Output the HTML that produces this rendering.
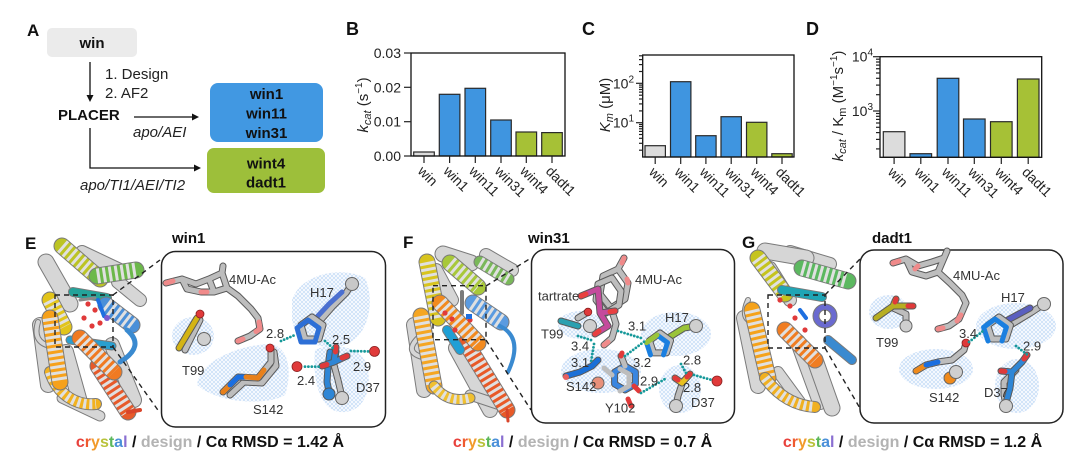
<!DOCTYPE html>
<html><head><meta charset="utf-8">
<style>
html,body{margin:0;padding:0;background:#fff;}
svg{display:block;font-family:"Liberation Sans",Arial,sans-serif;}
.ho{fill:none;stroke:#7a7a7a;stroke-linecap:round;stroke-linejoin:round}
.hc{fill:none;stroke-linecap:round;stroke-linejoin:round}
.hg{fill:none;stroke:#e0e0e0;stroke-dasharray:3 3;stroke-linejoin:round}
.gy{fill:none;stroke:#d6d6d6;stroke-linecap:round;stroke-linejoin:round}
.so{fill:none;stroke:#5a5a5a;stroke-width:7;stroke-linecap:round;stroke-linejoin:round}
.sg{fill:none;stroke:#bdbdbd;stroke-width:5;stroke-linecap:round;stroke-linejoin:round}
.sc{fill:none;stroke-width:5;stroke-linecap:round;stroke-linejoin:round}
.hb{fill:none;stroke:#17999a;stroke-width:2.8;stroke-dasharray:0 3.4;stroke-linecap:round}
.ms{fill:url(#mesh);stroke:none}
.dl{fill:none;stroke:#222;stroke-width:1.4;stroke-dasharray:5 4}
.lb{font-size:13px;fill:#333}
.bar{stroke:#2a2a2a;stroke-width:1.2}
.tk{stroke:#222;stroke-width:1.2}
.tl{font-size:14px;fill:#222}
</style></head><body>
<svg width="1080" height="465" viewBox="0 0 1080 465" xmlns="http://www.w3.org/2000/svg">
<defs>
<pattern id="mesh" width="4" height="4" patternUnits="userSpaceOnUse"><rect width="4" height="4" fill="#f4f8fe"/><path d="M0,0L4,4M4,0L0,4" stroke="#a9cbf1" stroke-width="0.45" fill="none"/></pattern>
</defs>
<rect width="1080" height="465" fill="#fff"/>

<!-- ============ Panel A ============ -->
<text x="27" y="36" font-size="17" font-weight="bold" fill="#111">A</text>
<rect x="47" y="28" width="90" height="29" rx="5" fill="#ebebeb"/>
<text x="92" y="48" font-size="15" font-weight="bold" text-anchor="middle" fill="#111">win</text>
<line x1="90" y1="62" x2="90" y2="96" stroke="#111" stroke-width="1.3"/>
<polygon points="86.5,95 93.5,95 90,102" fill="#111"/>
<text x="105" y="79" font-size="15" fill="#222">1. Design</text>
<text x="105" y="98" font-size="15" fill="#222">2. AF2</text>
<text x="58" y="120" font-size="15" font-weight="bold" fill="#111">PLACER</text>
<line x1="134" y1="117" x2="193" y2="117" stroke="#111" stroke-width="1.3"/>
<polygon points="192,113.5 192,120.5 199,117" fill="#111"/>
<text x="133" y="137" font-size="15" font-style="italic" fill="#222">apo/AEI</text>
<rect x="210" y="83" width="113" height="59" rx="8" fill="#4198e2"/>
<text x="266.5" y="99" font-size="15" font-weight="bold" text-anchor="middle" fill="#111">win1</text>
<text x="266.5" y="118.5" font-size="15" font-weight="bold" text-anchor="middle" fill="#111">win11</text>
<text x="266.5" y="138" font-size="15" font-weight="bold" text-anchor="middle" fill="#111">win31</text>
<polyline points="90,128 90,168 195,168" fill="none" stroke="#111" stroke-width="1.3"/>
<polygon points="194,164.5 194,171.5 201,168" fill="#111"/>
<rect x="207" y="148" width="118" height="45" rx="7" fill="#9dbf3a"/>
<text x="266" y="168.5" font-size="15" font-weight="bold" text-anchor="middle" fill="#111">wint4</text>
<text x="266" y="187.5" font-size="15" font-weight="bold" text-anchor="middle" fill="#111">dadt1</text>
<text x="80" y="190" font-size="15" font-style="italic" fill="#222">apo/TI1/AEI/TI2</text>

<!-- ============ Panel B ============ -->
<text x="346" y="35" font-size="18" font-weight="bold" fill="#111">B</text>
<rect class="bar" x="413.7" y="152" width="20.6" height="4" fill="#dcdcdc"/>
<rect class="bar" x="439.3" y="94.3" width="20.6" height="61.7" fill="#3f95e0"/>
<rect class="bar" x="465" y="88.3" width="20.6" height="67.7" fill="#3f95e0"/>
<rect class="bar" x="490.7" y="120" width="20.6" height="36" fill="#3f95e0"/>
<rect class="bar" x="516" y="132" width="20.6" height="24" fill="#a6c136"/>
<rect class="bar" x="541.7" y="132.6" width="20.6" height="23.4" fill="#a6c136"/>
<rect x="411" y="53" width="154" height="103" fill="none" stroke="#111" stroke-width="1.3"/>
<g class="tk">
<line x1="404" y1="53" x2="411" y2="53"/><line x1="404" y1="87.3" x2="411" y2="87.3"/>
<line x1="404" y1="121.7" x2="411" y2="121.7"/><line x1="404" y1="156" x2="411" y2="156"/>
<line x1="424" y1="156" x2="424" y2="163"/><line x1="449.6" y1="156" x2="449.6" y2="163"/>
<line x1="475.3" y1="156" x2="475.3" y2="163"/><line x1="501" y1="156" x2="501" y2="163"/>
<line x1="526.3" y1="156" x2="526.3" y2="163"/><line x1="552" y1="156" x2="552" y2="163"/>
</g>
<g class="tl" text-anchor="end">
<text x="401" y="58">0.03</text><text x="401" y="92.3">0.02</text>
<text x="401" y="126.7">0.01</text><text x="401" y="161">0.00</text>
</g>
<g class="tl">
<text transform="translate(417,172) rotate(45)">win</text>
<text transform="translate(442.6,172) rotate(45)">win1</text>
<text transform="translate(468.3,172) rotate(45)">win11</text>
<text transform="translate(494,172) rotate(45)">win31</text>
<text transform="translate(519.3,172) rotate(45)">wint4</text>
<text transform="translate(545,172) rotate(45)">dadt1</text>
</g>
<text transform="translate(368,105) rotate(-90)" text-anchor="middle" font-size="15" fill="#222"><tspan font-style="italic">k</tspan><tspan font-style="italic" font-size="11" dy="3">cat</tspan><tspan dy="-3"> (s</tspan><tspan font-size="10" dy="-6">−1</tspan><tspan dy="6">)</tspan></text>

<!-- ============ Panel C ============ -->
<text x="582" y="35" font-size="18" font-weight="bold" fill="#111">C</text>
<rect class="bar" x="645" y="145.7" width="20.4" height="11.3" fill="#dcdcdc"/>
<rect class="bar" x="670.5" y="81.7" width="20.4" height="75.3" fill="#3f95e0"/>
<rect class="bar" x="695.7" y="135.7" width="20.4" height="21.3" fill="#3f95e0"/>
<rect class="bar" x="721" y="116.7" width="20.4" height="40.3" fill="#3f95e0"/>
<rect class="bar" x="746.5" y="122.3" width="20.4" height="34.7" fill="#a6c136"/>
<rect class="bar" x="771.8" y="153.7" width="20.4" height="3.3" fill="#a6c136"/>
<rect x="642.7" y="55" width="151.3" height="102" fill="none" stroke="#111" stroke-width="1.3"/>
<g class="tk">
<line x1="636" y1="83.3" x2="642.7" y2="83.3"/><line x1="636" y1="122.7" x2="642.7" y2="122.7"/>
<line x1="639" y1="150.2" x2="642.7" y2="150.2"/><line x1="639" y1="143.3" x2="642.7" y2="143.3"/>
<line x1="639" y1="138.3" x2="642.7" y2="138.3"/><line x1="639" y1="134.5" x2="642.7" y2="134.5"/>
<line x1="639" y1="131.4" x2="642.7" y2="131.4"/><line x1="639" y1="128.8" x2="642.7" y2="128.8"/>
<line x1="639" y1="126.5" x2="642.7" y2="126.5"/><line x1="639" y1="124.5" x2="642.7" y2="124.5"/>
<line x1="639" y1="110.9" x2="642.7" y2="110.9"/><line x1="639" y1="103.9" x2="642.7" y2="103.9"/>
<line x1="639" y1="99" x2="642.7" y2="99"/><line x1="639" y1="95.2" x2="642.7" y2="95.2"/>
<line x1="639" y1="92.1" x2="642.7" y2="92.1"/><line x1="639" y1="89.5" x2="642.7" y2="89.5"/>
<line x1="639" y1="87.2" x2="642.7" y2="87.2"/><line x1="639" y1="85.1" x2="642.7" y2="85.1"/>
<line x1="639" y1="71.5" x2="642.7" y2="71.5"/><line x1="639" y1="64.6" x2="642.7" y2="64.6"/>
<line x1="639" y1="59.6" x2="642.7" y2="59.6"/><line x1="639" y1="55.8" x2="642.7" y2="55.8"/>
<line x1="655.2" y1="157" x2="655.2" y2="164"/><line x1="680.7" y1="157" x2="680.7" y2="164"/>
<line x1="705.9" y1="157" x2="705.9" y2="164"/><line x1="731.2" y1="157" x2="731.2" y2="164"/>
<line x1="756.7" y1="157" x2="756.7" y2="164"/><line x1="782" y1="157" x2="782" y2="164"/>
</g>
<g class="tl" text-anchor="end">
<text x="634" y="88.3">10<tspan font-size="10" dy="-6">2</tspan></text>
<text x="634" y="127.7">10<tspan font-size="10" dy="-6">1</tspan></text>
</g>
<g class="tl">
<text transform="translate(648.2,173) rotate(45)">win</text>
<text transform="translate(673.7,173) rotate(45)">win1</text>
<text transform="translate(698.9,173) rotate(45)">win11</text>
<text transform="translate(724.2,173) rotate(45)">win31</text>
<text transform="translate(749.7,173) rotate(45)">wint4</text>
<text transform="translate(775,173) rotate(45)">dadt1</text>
</g>
<text transform="translate(610,105) rotate(-90)" text-anchor="middle" font-size="15" fill="#222"><tspan font-style="italic">K</tspan><tspan font-style="italic" font-size="11" dy="3">m</tspan><tspan dy="-3"> (μM)</tspan></text>

<!-- ============ Panel D ============ -->
<text x="806" y="35" font-size="18" font-weight="bold" fill="#111">D</text>
<rect class="bar" x="883.3" y="131.7" width="21.6" height="25.6" fill="#dcdcdc"/>
<rect class="bar" x="910" y="153.7" width="21.6" height="3.6" fill="#3f95e0"/>
<rect class="bar" x="937.2" y="78.3" width="21.6" height="79" fill="#3f95e0"/>
<rect class="bar" x="963.5" y="119" width="21.6" height="38.3" fill="#3f95e0"/>
<rect class="bar" x="990.5" y="121.7" width="21.6" height="35.6" fill="#a6c136"/>
<rect class="bar" x="1017.4" y="79" width="21.6" height="78.3" fill="#a6c136"/>
<rect x="880" y="56.7" width="161.7" height="100.6" fill="none" stroke="#111" stroke-width="1.3"/>
<g class="tk">
<line x1="873" y1="56.7" x2="880" y2="56.7"/><line x1="873" y1="111" x2="880" y2="111"/>
<line x1="876" y1="148.9" x2="880" y2="148.9"/><line x1="876" y1="139.4" x2="880" y2="139.4"/>
<line x1="876" y1="132.6" x2="880" y2="132.6"/><line x1="876" y1="127.3" x2="880" y2="127.3"/>
<line x1="876" y1="123" x2="880" y2="123"/><line x1="876" y1="119.4" x2="880" y2="119.4"/>
<line x1="876" y1="116.3" x2="880" y2="116.3"/><line x1="876" y1="113.5" x2="880" y2="113.5"/>
<line x1="876" y1="94.7" x2="880" y2="94.7"/><line x1="876" y1="85.1" x2="880" y2="85.1"/>
<line x1="876" y1="78.3" x2="880" y2="78.3"/><line x1="876" y1="73" x2="880" y2="73"/>
<line x1="876" y1="68.7" x2="880" y2="68.7"/><line x1="876" y1="65.1" x2="880" y2="65.1"/>
<line x1="876" y1="62" x2="880" y2="62"/><line x1="876" y1="59.2" x2="880" y2="59.2"/>
<line x1="894.1" y1="157.3" x2="894.1" y2="164"/><line x1="920.8" y1="157.3" x2="920.8" y2="164"/>
<line x1="948" y1="157.3" x2="948" y2="164"/><line x1="974.3" y1="157.3" x2="974.3" y2="164"/>
<line x1="1001.3" y1="157.3" x2="1001.3" y2="164"/><line x1="1028.2" y1="157.3" x2="1028.2" y2="164"/>
</g>
<g class="tl" text-anchor="end">
<text x="873" y="61.7">10<tspan font-size="10" dy="-6">4</tspan></text>
<text x="873" y="116">10<tspan font-size="10" dy="-6">3</tspan></text>
</g>
<g class="tl">
<text transform="translate(887.1,173) rotate(45)">win</text>
<text transform="translate(913.8,173) rotate(45)">win1</text>
<text transform="translate(941,173) rotate(45)">win11</text>
<text transform="translate(967.3,173) rotate(45)">win31</text>
<text transform="translate(994.3,173) rotate(45)">wint4</text>
<text transform="translate(1021.2,173) rotate(45)">dadt1</text>
</g>
<text transform="translate(843,106) rotate(-90)" text-anchor="middle" font-size="15" fill="#222"><tspan font-style="italic">k</tspan><tspan font-style="italic" font-size="11" dy="3">cat</tspan><tspan dy="-3"> / K</tspan><tspan font-size="11" dy="3">m</tspan><tspan dy="-3"> (M</tspan><tspan font-size="10" dy="-6">−1</tspan><tspan dy="6">s</tspan><tspan font-size="10" dy="-6">−1</tspan><tspan dy="6">)</tspan></text>

<!-- ============ Panel E ============ -->
<text x="25" y="249" font-size="17" font-weight="bold" fill="#111">E</text>
<text x="172" y="243" font-size="15" font-weight="bold" fill="#111">win1</text>
<g>
<!-- background gray helices -->
<path class="ho" stroke-width="16" d="M40,325 L48,385"/><path class="gy" stroke-width="14" d="M40,325 L48,385"/>
<path class="ho" stroke-width="16" d="M66,352 L80,402"/><path class="gy" stroke-width="14" d="M66,352 L80,402"/>
<path class="ho" stroke-width="16" d="M112,345 L134,400"/><path class="gy" stroke-width="14" d="M112,345 L134,400"/>
<path class="ho" stroke-width="14" d="M118,282 L140,300"/><path class="gy" stroke-width="12" d="M118,282 L140,300"/>
<path class="ho" stroke-width="14" d="M82,252 L120,270"/><path class="gy" stroke-width="12" d="M82,252 L120,270"/>
<path class="ho" stroke-width="11" d="M62,398 L100,416"/><path class="gy" stroke-width="9" d="M62,398 L100,416"/>
<path class="ho" stroke-width="6" d="M38,322 Q32,342 50,346"/><path class="gy" stroke-width="4" d="M38,322 Q32,342 50,346"/>
<path class="ho" stroke-width="17" d="M46,262 L70,304"/><path class="gy" stroke-width="15" d="M46,262 L70,304"/>
<!-- colored -->
<path class="ho" stroke-width="17" d="M62,246 L100,279"/><path class="hc" stroke="#bcc424" stroke-width="15" d="M62,246 L100,279"/><path class="hg" stroke-width="15" d="M62,246 L100,279"/>
<path class="ho" stroke-width="17" d="M97,276 L136,270"/><path class="hc" stroke="#6cb84a" stroke-width="15" d="M97,276 L136,270"/><path class="hg" stroke-width="15" d="M97,276 L136,270"/>
<path class="ho" stroke-width="10" d="M73,292 L107,298"/><path class="hc" stroke="#23a39a" stroke-width="8" d="M73,292 L107,298"/>
<path class="ho" stroke-width="17" d="M50,300 L64,327"/><path class="hc" stroke="#e2c41a" stroke-width="15" d="M50,300 L64,327"/><path class="hg" stroke-width="15" d="M50,300 L64,327"/>
<path class="ho" stroke-width="12" d="M50,372 C58,396 78,406 96,404"/><path class="hc" stroke="#f2b21f" stroke-width="10" d="M50,372 C58,396 78,406 96,404"/><path class="hg" stroke-width="10" d="M50,372 C58,396 78,406 96,404"/>
<path class="ho" stroke-width="17" d="M50,318 L60,382"/><path class="hc" stroke="#f6a11b" stroke-width="15" d="M50,318 L60,382"/><path class="hg" stroke-width="15" d="M50,318 L60,382"/>
<path class="ho" stroke-width="17" d="M98,366 L128,412"/><path class="hc" stroke="#e75a2a" stroke-width="15" d="M98,366 L128,412"/><path class="hg" stroke-width="15" d="M98,366 L128,412"/>
<path class="hc" stroke="#d9452a" stroke-width="4" d="M128,412 L140,410"/>
<path class="ho" stroke-width="9" d="M70,340 L112,346"/><path class="hc" stroke="#2a9fd0" stroke-width="7" d="M70,340 L112,346"/>
<path class="ho" stroke-width="17" d="M80,338 L114,372"/><path class="hc" stroke="#f07a22" stroke-width="15" d="M80,338 L114,372"/><path class="hg" stroke-width="15" d="M80,338 L114,372"/>
<path class="ho" stroke-width="17" d="M106,305 L132,325"/><path class="hc" stroke="#4a8fd8" stroke-width="15" d="M106,305 L132,325"/><path class="hg" stroke-width="15" d="M106,305 L132,325"/>
<path class="hc" stroke="#3a8ad0" stroke-width="5" d="M127,330 Q146,346 120,362"/>
<path class="hc" stroke="#8a8a8a" stroke-width="3" d="M80,300 L95,298"/>
<path class="hc" stroke="#1e6fe0" stroke-width="4" d="M98,300 L104,316"/>
<circle cx="88" cy="304" r="2.6" fill="#e03a3a"/><circle cx="95" cy="310" r="2.6" fill="#e03a3a"/>
<circle cx="84" cy="318" r="2.6" fill="#e03a3a"/><circle cx="100" cy="323" r="2.6" fill="#e03a3a"/>
<circle cx="92" cy="326" r="2.6" fill="#e03a3a"/><circle cx="107" cy="318" r="3" fill="#7a5ad0"/>
</g>
<rect class="dl" x="55" y="295" width="58" height="52"/>
<path class="dl" d="M113,295 L160,260 M113,347 L160,413"/>
<rect x="161.5" y="251.5" width="224" height="175.5" rx="14" fill="#fff" stroke="#222" stroke-width="1.5"/>
<!-- inset E -->
<ellipse class="ms" cx="193" cy="336" rx="21" ry="19"/>
<path class="ms" d="M292,300 C300,275 340,265 365,278 C375,300 370,335 345,345 C320,352 295,340 292,320 Z"/>
<path class="ms" d="M197,385 C200,360 240,345 270,344 C290,346 292,375 285,395 C270,405 220,405 197,385 Z"/>
<path class="ms" d="M315,350 C330,342 365,345 368,370 C372,395 360,414 340,412 C320,410 312,380 315,350 Z"/>
<path class="so" d="M166,283 L182,279 L196,284 L209,279 L222,273 L223,266 M182,279 L187,289 L201,292 L214,292 L227,288 L222,273 M214,292 L209,279 M227,288 L238,296 L251,309 L258,318 L260,329 L250,336 L238,341"/>
<path class="sg" d="M166,283 L182,279 L196,284 L209,279 L222,273 L223,266 M182,279 L187,289 L201,292 L214,292 L227,288 L222,273 M214,292 L209,279 M227,288 L238,296 L251,309 L258,318 L260,329 L250,336 L238,341"/>
<path class="sc" stroke="#f08a8a" d="M166,283 L173,281 M201,292 L207,292 M259,322 L260,329 L256,331.5 M238,341 L243,339"/>
<path class="so" d="M319,322 L333,306 L346,293 L352,284"/><path class="sc" stroke="#bdbdbd" d="M319,322 L333,306 L346,293 L352,284"/>
<path class="sc" stroke="#4a6fd0" d="M315,319 L329,304 L342,292"/>
<path class="so" d="M312,317 L323,325 L319,339 L305,339 L301,325 Z"/><path class="sc" stroke="#bdbdbd" d="M312,317 L323,325 L319,339 L305,339 L301,325 Z"/>
<path class="sc" stroke="#2d6fd6" d="M308,320 L319,328 L315,342 L301,342 L297,328 Z"/>
<circle cx="352" cy="284" r="6.5" fill="#c8c8c8" stroke="#666" stroke-width="1"/>
<path class="so" d="M185,350 L200,320"/><path class="sc" stroke="#bdbdbd" d="M185,350 L200,320"/>
<path class="so" d="M179,348 L197,318"/><path class="sc" stroke="#d4b414" d="M179,348 L197,318"/>
<circle cx="200" cy="314" r="4" fill="#e03a3a" stroke="#8a2020" stroke-width="0.8"/>
<circle cx="204" cy="339" r="6.5" fill="#cfcfcf" stroke="#666" stroke-width="1"/>
<path class="so" d="M230,395 L244,382 L262,383 L276,366 L274,352"/><path class="sc" stroke="#bdbdbd" d="M230,395 L244,382 L262,383 L276,366 L274,352"/>
<path class="so" d="M223,392 L238,377 L258,378 L271,362 L271,349"/><path class="sc" stroke="#bdbdbd" d="M223,392 L238,377 L258,378 L271,362 L271,349"/>
<path class="sc" stroke="#e8801a" d="M223,392 L230,385"/><path class="sc" stroke="#1a6ee0" d="M230,385 L238,377 L246,377"/><path class="sc" stroke="#e8801a" d="M246,377 L258,378 L264,370"/>
<circle cx="270" cy="348" r="4" fill="#e03a3a" stroke="#8a2020" stroke-width="0.8"/>
<path class="so" d="M336,351 L334,365 L338,380 L342,397"/><path class="sc" stroke="#bdbdbd" d="M336,351 L334,365 L338,380 L342,397"/>
<path class="so" d="M330,352 L328,367 L327,382 L330,396"/><path class="sc" stroke="#2e86d6" d="M330,352 L328,367 L327,382 L330,396"/>
<path class="so" d="M322,366 L334,362 L336,347 M334,362 L347,356"/><path class="sc" stroke="#2e86d6" d="M322,366 L334,362 L336,347 M334,362 L347,356"/>
<path class="sc" stroke="#e03a3a" d="M322,366 L327,364.5 M336,347 L335.5,352 M347,356 L342,358"/>
<circle cx="342" cy="398" r="6.5" fill="#cfcfcf" stroke="#666" stroke-width="1"/>
<circle cx="329" cy="394" r="6" fill="#2e86d6" stroke="#555" stroke-width="1"/>
<circle cx="297" cy="366.6" r="5" fill="#e03a3a" stroke="#8a2020" stroke-width="0.8"/>
<circle cx="374.5" cy="351.4" r="5" fill="#e03a3a" stroke="#8a2020" stroke-width="0.8"/>
<path class="hb" d="M281,341 L295,335 M305,366.6 L320,366.6 M325,341 L335,350 M351,351 L368,351.4"/>
<text class="lb" x="229" y="284">4MU-Ac</text><text class="lb" x="310" y="297">H17</text>
<text class="lb" x="182" y="375">T99</text><text class="lb" x="266" y="338">2.8</text>
<text class="lb" x="332" y="344">2.5</text><text class="lb" x="297" y="385">2.4</text>
<text class="lb" x="353" y="371">2.9</text><text class="lb" x="356" y="392">D37</text>
<text class="lb" x="253" y="414">S142</text>
<text x="210" y="447" text-anchor="middle" font-size="16" font-weight="bold" fill="#111"><tspan fill="#e8413c">c</tspan><tspan fill="#ef5a2e">r</tspan><tspan fill="#f29a2a">y</tspan><tspan fill="#b9c23a">s</tspan><tspan fill="#5cb85c">t</tspan><tspan fill="#4a90d9">a</tspan><tspan fill="#8a6fd1">l</tspan> / <tspan fill="#b3b3b3">design</tspan> / Cα RMSD = 1.42 Å</text>

<!-- ============ Panel F ============ -->
<text x="403" y="248" font-size="17" font-weight="bold" fill="#111">F</text>
<text x="528" y="243" font-size="15" font-weight="bold" fill="#111">win31</text>
<g>
<path class="ho" stroke-width="16" d="M414,325 L424,390"/><path class="gy" stroke-width="14" d="M414,325 L424,390"/>
<path class="ho" stroke-width="16" d="M456,348 L490,410"/><path class="gy" stroke-width="14" d="M456,348 L490,410"/>
<path class="ho" stroke-width="14" d="M486,255 L512,270"/><path class="gy" stroke-width="12" d="M486,255 L512,270"/>
<path class="ho" stroke-width="11" d="M470,395 L500,405"/><path class="gy" stroke-width="9" d="M470,395 L500,405"/>
<path class="ho" stroke-width="14" d="M436,270 L452,300"/><path class="gy" stroke-width="12" d="M436,270 L452,300"/>
<path class="ho" stroke-width="6" d="M418,338 Q404,352 422,357"/><path class="gy" stroke-width="4" d="M418,338 Q404,352 422,357"/>
<path class="ho" stroke-width="17" d="M443,254 L471,263"/><path class="gy" stroke-width="15" d="M443,254 L471,263"/>
<path class="ho" stroke-width="17" d="M427,262 L438,318"/><path class="hc" stroke="#d8c41e" stroke-width="15" d="M427,262 L438,318"/><path class="hg" stroke-width="15" d="M427,262 L438,318"/>
<path class="ho" stroke-width="17" d="M450,263 L478,287"/><path class="hc" stroke="#a8c83a" stroke-width="15" d="M450,263 L478,287"/><path class="hg" stroke-width="15" d="M450,263 L478,287"/>
<path class="ho" stroke-width="13" d="M480,262 L508,279"/><path class="hc" stroke="#7ab85a" stroke-width="11" d="M480,262 L508,279"/><path class="hg" stroke-width="11" d="M480,262 L508,279"/>
<path class="ho" stroke-width="17" d="M421,316 L434,386"/><path class="hc" stroke="#f5a623" stroke-width="15" d="M421,316 L434,386"/><path class="hg" stroke-width="15" d="M421,316 L434,386"/>
<path class="ho" stroke-width="11" d="M434,386 Q448,404 470,398"/><path class="hc" stroke="#f0c030" stroke-width="9" d="M434,386 Q448,404 470,398"/><path class="hg" stroke-width="9" d="M434,386 Q448,404 470,398"/>
<path class="ho" stroke-width="17" d="M466,343 L507,410"/><path class="hc" stroke="#e85a28" stroke-width="15" d="M466,343 L507,410"/><path class="hg" stroke-width="15" d="M466,343 L507,410"/>
<path class="hc" stroke="#d9452a" stroke-width="3" d="M507,410 L508,421"/>
<path class="ho" stroke-width="10" d="M447,330 L460,350"/><path class="hc" stroke="#1f9fd5" stroke-width="8" d="M447,330 L460,350"/>
<path class="ho" stroke-width="17" d="M440,303 L478,343"/><path class="hc" stroke="#f28a1f" stroke-width="15" d="M440,303 L478,343"/><path class="hg" stroke-width="15" d="M440,303 L478,343"/>
<path class="ho" stroke-width="17" d="M473,303 L501,322"/><path class="hc" stroke="#5b9be0" stroke-width="15" d="M473,303 L501,322"/><path class="hg" stroke-width="15" d="M473,303 L501,322"/>
<path class="hc" stroke="#3a8ad0" stroke-width="4" d="M500,326 Q524,338 508,372"/>
<path class="hc" stroke="#7a7a7a" stroke-width="4" d="M462,292 L462,313"/>
<circle cx="445" cy="313" r="2.6" fill="#e03a3a"/><circle cx="452" cy="319" r="2.6" fill="#e03a3a"/>
<circle cx="470" cy="320" r="2.6" fill="#e03a3a"/><circle cx="455" cy="330" r="2.6" fill="#e03a3a"/>
<rect x="466" y="314" width="6" height="5" fill="#1e6fe0"/>
</g>
<rect class="dl" x="433" y="285.7" width="53" height="54"/>
<path class="dl" d="M486,286 L531,258 M486,340 L531,410"/>
<rect x="531.5" y="249.5" width="203" height="173.5" rx="14" fill="#fff" stroke="#222" stroke-width="1.5"/>
<ellipse class="ms" cx="580" cy="325" rx="22" ry="14"/>
<ellipse class="ms" cx="676" cy="334" rx="35" ry="22"/>
<ellipse class="ms" cx="601" cy="371" rx="40" ry="22"/>
<ellipse class="ms" cx="680" cy="389" rx="21" ry="24"/>
<path class="so" d="M603,276 L618,269 L628,283 L625,299 L611,308 L600,294 Z M618,269 L624,258 M611,308 L616,324 L612,338 L604,345"/>
<path class="sg" d="M603,276 L618,269 L628,283 L625,299 L611,308 L600,294 Z M618,269 L624,258 M611,308 L616,324 L612,338 L604,345"/>
<path class="so" d="M598,284 L612,278 L621,291 L619,305 L606,313 L596,300 Z"/><path class="sg" d="M598,284 L612,278 L621,291 L619,305 L606,313 L596,300 Z"/>
<path class="sc" stroke="#f08a8a" d="M624,258 L622,263 M627,279 L628,283 M604,345 L608,342"/>
<path class="so" d="M581,296 L598,289 L600,313 L615,311 M600,313 L608,326 L595,334"/>
<path class="sc" stroke="#c44a9c" d="M581,296 L598,289 L600,313 L615,311 M600,313 L608,326 L595,334"/>
<path class="sc" stroke="#e84040" d="M581,296 L586,294 M615,311 L610,311.7 M595,334 L599,331"/>
<path class="so" d="M561,321 L578,326"/><path class="sc" stroke="#2aa0b0" d="M561,321 L578,326"/>
<path class="so" d="M578,318 L588,312"/><path class="sc" stroke="#bdbdbd" d="M578,318 L588,312"/>
<circle cx="588" cy="312" r="3.8" fill="#e03a3a" stroke="#8a2020" stroke-width="0.8"/>
<circle cx="590" cy="326" r="6.5" fill="#cfcfcf" stroke="#666" stroke-width="1"/>
<path class="so" d="M668,338 L684,328 L696,326"/><path class="sc" stroke="#9ac43a" d="M668,338 L684,328 L696,326"/>
<path class="so" d="M660,333 L670.5,340.6 L666.5,352.9 L653.5,352.9 L649.5,340.6 Z"/><path class="sc" stroke="#bdbdbd" d="M660,333 L670.5,340.6 L666.5,352.9 L653.5,352.9 L649.5,340.6 Z"/>
<path class="sc" stroke="#1a7fe0" d="M657,335 L667.5,342.6 L663.5,354.9 M650.5,354.9 L646.5,342.6"/>
<path class="sc" stroke="#9ac43a" d="M646.5,342.6 L657,335"/>
<circle cx="696" cy="326" r="6.5" fill="#cfcfcf" stroke="#666" stroke-width="1"/>
<path class="so" d="M566,376 L580,372 L592,366 L598,360"/><path class="sc" stroke="#1a70d8" d="M566,376 L580,372 L592,366 L598,360"/>
<circle cx="598" cy="383" r="6" fill="#e8907a" stroke="#666" stroke-width="1"/>
<circle cx="566" cy="377" r="3" fill="#e86060"/>
<path class="so" d="M625,366 L635.4,372 L635.4,384 L625,390 L614.6,384 L614.6,372 Z M625,366 L621,356"/>
<path class="sc" stroke="#3a86e0" d="M625,366 L635.4,372 L635.4,384 L625,390 L614.6,384 L614.6,372 Z"/>
<path class="sc" stroke="#bdbdbd" d="M620,369 L629,374 L629,386 L620,391 M625,366 L621,356 M604,368 L612,375"/>
<path class="sc" stroke="#e03a3a" d="M634,386 L639,391 M628,399 L631,406 M621,356 L622,353"/>
<path class="so" d="M682,384 L678,396 L676,406"/><path class="sc" stroke="#bdbdbd" d="M682,384 L678,396 L676,406"/>
<path class="so" d="M675,378 L682,383 L690,374"/><path class="sc" stroke="#e8c020" d="M675,378 L682,383 L690,374"/>
<path class="sc" stroke="#e03a3a" d="M675,378 L678,380 M690,374 L687,377"/>
<circle cx="676" cy="406" r="6.5" fill="#cfcfcf" stroke="#666" stroke-width="1"/>
<circle cx="717" cy="381" r="5" fill="#e03a3a" stroke="#8a2020" stroke-width="0.8"/>
<path class="hb" d="M578,336 L594,341 M594,344 L591,362 M618,331 L641,338 M625,356 L645,341 M681,364 L686,373 M694,375 L712,380 M641,393 L665,379"/>
<text class="lb" x="635" y="284">4MU-Ac</text><text class="lb" x="538" y="300.5">tartrate</text>
<text class="lb" x="665" y="322">H17</text><text class="lb" x="541" y="338.5">T99</text>
<text class="lb" x="628" y="330.5">3.1</text><text class="lb" x="571" y="350.5">3.4</text>
<text class="lb" x="571" y="367">3.1</text><text class="lb" x="633" y="367">3.2</text>
<text class="lb" x="683" y="364.5">2.8</text><text class="lb" x="640" y="385.5">2.9</text>
<text class="lb" x="683" y="392">2.8</text><text class="lb" x="566" y="391">S142</text>
<text class="lb" x="605" y="412.5">Y102</text><text class="lb" x="691" y="407">D37</text>
<text x="582.5" y="447" text-anchor="middle" font-size="16" font-weight="bold" fill="#111"><tspan fill="#e8413c">c</tspan><tspan fill="#ef5a2e">r</tspan><tspan fill="#f29a2a">y</tspan><tspan fill="#b9c23a">s</tspan><tspan fill="#5cb85c">t</tspan><tspan fill="#4a90d9">a</tspan><tspan fill="#8a6fd1">l</tspan> / <tspan fill="#b3b3b3">design</tspan> / Cα RMSD = 0.7 Å</text>

<!-- ============ Panel G ============ -->
<text x="742" y="248" font-size="17" font-weight="bold" fill="#111">G</text>
<text x="872" y="243" font-size="15" font-weight="bold" fill="#111">dadt1</text>
<g>
<path class="ho" stroke-width="16" d="M744,318 L758,386"/><path class="gy" stroke-width="14" d="M744,318 L758,386"/>
<path class="ho" stroke-width="14" d="M790,252 L830,264"/><path class="gy" stroke-width="12" d="M790,252 L830,264"/>
<path class="ho" stroke-width="16" d="M798,342 L820,402"/><path class="gy" stroke-width="14" d="M798,342 L820,402"/>
<path class="ho" stroke-width="12" d="M778,372 L800,402"/><path class="gy" stroke-width="10" d="M778,372 L800,402"/>
<path class="ho" stroke-width="14" d="M770,268 L790,300"/><path class="gy" stroke-width="12" d="M770,268 L790,300"/>
<path class="ho" stroke-width="6" d="M748,300 Q740,318 752,322"/><path class="gy" stroke-width="4" d="M748,300 Q740,318 752,322"/>
<path class="ho" stroke-width="17" d="M765,251 L806,258"/><path class="gy" stroke-width="15" d="M765,251 L806,258"/>
<path class="ho" stroke-width="17" d="M758,258 L785,294"/><path class="hc" stroke="#c5c41e" stroke-width="15" d="M758,258 L785,294"/><path class="hg" stroke-width="15" d="M758,258 L785,294"/>
<path class="ho" stroke-width="17" d="M802,268 L848,281"/><path class="hc" stroke="#5cb860" stroke-width="15" d="M802,268 L848,281"/><path class="hg" stroke-width="15" d="M802,268 L848,281"/>
<path class="ho" stroke-width="10" d="M782,290 L822,297"/><path class="hc" stroke="#1fa5b5" stroke-width="8" d="M782,290 L822,297"/>
<circle cx="825" cy="316" r="9" fill="none" stroke="#777" stroke-width="7"/><circle cx="825" cy="316" r="9" fill="none" stroke="#6a6ad0" stroke-width="5"/>
<path class="ho" stroke-width="17" d="M752,310 L768,378"/><path class="hc" stroke="#f5a21a" stroke-width="15" d="M752,310 L768,378"/><path class="hg" stroke-width="15" d="M752,310 L768,378"/>
<path class="ho" stroke-width="12" d="M765,378 Q785,405 815,407"/><path class="hc" stroke="#f0b020" stroke-width="10" d="M765,378 Q785,405 815,407"/><path class="hg" stroke-width="10" d="M765,378 Q785,405 815,407"/>
<path class="ho" stroke-width="17" d="M815,360 L832,408"/><path class="gy" stroke-width="15" d="M815,360 L832,408"/>
<path class="ho" stroke-width="17" d="M785,330 L815,360"/><path class="hc" stroke="#f07d22" stroke-width="15" d="M785,330 L815,360"/><path class="hg" stroke-width="15" d="M785,330 L815,360"/>
<path class="ho" stroke-width="10" d="M828,340 L852,360"/><path class="hc" stroke="#3a8ad0" stroke-width="8" d="M828,340 L852,360"/>
<path class="hc" stroke="#1e6fe0" stroke-width="4" d="M800,310 L806,318"/>
<circle cx="780" cy="300" r="2.6" fill="#e03a3a"/><circle cx="790" cy="306" r="2.6" fill="#e03a3a"/>
<circle cx="795" cy="318" r="2.6" fill="#e03a3a"/><circle cx="805" cy="330" r="2.6" fill="#e03a3a"/>
</g>
<rect class="dl" x="768" y="295" width="57" height="53"/>
<path class="dl" d="M825,295 L861,258 M825,348 L861,410"/>
<rect x="860" y="250" width="203" height="173" rx="14" fill="#fff" stroke="#222" stroke-width="1.5"/>
<ellipse class="ms" cx="889" cy="312" rx="20" ry="17"/>
<ellipse class="ms" cx="1016" cy="326" rx="40" ry="23"/>
<ellipse class="ms" cx="936" cy="369" rx="37" ry="20"/>
<ellipse class="ms" cx="1017" cy="386" rx="22" ry="27"/>
<path class="so" d="M893,263 L906,259 L918,266 L932,262 L944,258 L947,251 M906,259 L912,272 L926,276 L938,272 L944,258 M938,272 L950,283 L962,295 L966,303 L959,319 L949,326 L938,329"/>
<path class="sg" d="M893,263 L906,259 L918,266 L932,262 L944,258 L947,251 M906,259 L912,272 L926,276 L938,272 L944,258 M938,272 L950,283 L962,295 L966,303 L959,319 L949,326 L938,329"/>
<path class="sc" stroke="#f08a8a" d="M893,263 L899,261 M918,266 L915,269 M961,315 L957,321 M938,329 L943,328"/>
<path class="so" d="M1009,326 L1032,312 L1044,304"/><path class="sc" stroke="#bdbdbd" d="M1009,326 L1032,312 L1044,304"/>
<path class="so" d="M1006,321 L1030,308"/><path class="sc" stroke="#5a5fc0" d="M1006,321 L1030,308"/>
<path class="so" d="M999,317 L1010.4,325.3 L1006,339 L992,339 L987.6,325.3 Z"/><path class="sc" stroke="#bdbdbd" d="M999,317 L1010.4,325.3 L1006,339 L992,339 L987.6,325.3 Z"/>
<path class="sc" stroke="#1a7fe0" d="M995,319 L1006.4,327.3 L1002,341 M988,341 L983.6,327.3 L995,319"/>
<circle cx="1044" cy="304" r="6.5" fill="#cfcfcf" stroke="#666" stroke-width="1"/>
<path class="so" d="M893,308 L906,314 L906,326"/><path class="sc" stroke="#bdbdbd" d="M893,308 L906,314 L906,326"/>
<path class="so" d="M876,318 L893,306 L896,299 M893,306 L913,306"/><path class="sc" stroke="#b7ae22" d="M876,318 L893,306 L896,299 M893,306 L913,306"/>
<path class="sc" stroke="#e03a3a" d="M895,302 L896,299 M908,306 L913,306"/>
<circle cx="906" cy="326" r="6" fill="#cfcfcf" stroke="#666" stroke-width="1"/>
<path class="so" d="M916,371 L926,365 L938,362 L952,360 L964,350 L966,343"/><path class="sc" stroke="#bdbdbd" d="M916,371 L926,365 L938,362 L952,360 L964,350 L966,343"/>
<path class="sc" stroke="#f08a1a" d="M916,371 L926,365"/><path class="sc" stroke="#1a6ee0" d="M926,365 L938,362"/>
<circle cx="950" cy="378" r="6" fill="#f08a1a" stroke="#666" stroke-width="1"/>
<circle cx="956" cy="372" r="6.5" fill="#cfcfcf" stroke="#666" stroke-width="1"/>
<circle cx="966" cy="343" r="4" fill="#e03a3a" stroke="#8a2020" stroke-width="0.8"/>
<path class="so" d="M1016,370 L1004,382 L1004,395 L1006,405"/><path class="sc" stroke="#bdbdbd" d="M1016,370 L1004,382 L1004,395 L1006,405"/>
<path class="so" d="M1027,355 L1022,362 L1012,372 L1010,388 L1006,403 M1012,372 L1001,371"/><path class="sc" stroke="#2e86d6" d="M1027,355 L1022,362 L1012,372 L1010,388 L1006,403 M1012,372 L1001,371"/>
<path class="sc" stroke="#e03a3a" d="M1027,355 L1024,359 M1001,371 L1005,371.4"/>
<circle cx="1006" cy="406" r="6.5" fill="#cfcfcf" stroke="#666" stroke-width="1"/>
<path class="hb" d="M969,342 L983,331 M1016,346 L1029,356"/>
<text class="lb" x="953" y="280">4MU-Ac</text><text class="lb" x="1001" y="302">H17</text>
<text class="lb" x="876" y="347">T99</text><text class="lb" x="959" y="338">3.4</text>
<text class="lb" x="1023" y="350.5">2.9</text><text class="lb" x="929" y="402">S142</text>
<text class="lb" x="984" y="397">D37</text>
<text x="912.5" y="447" text-anchor="middle" font-size="16" font-weight="bold" fill="#111"><tspan fill="#e8413c">c</tspan><tspan fill="#ef5a2e">r</tspan><tspan fill="#f29a2a">y</tspan><tspan fill="#b9c23a">s</tspan><tspan fill="#5cb85c">t</tspan><tspan fill="#4a90d9">a</tspan><tspan fill="#8a6fd1">l</tspan> / <tspan fill="#b3b3b3">design</tspan> / Cα RMSD = 1.2 Å</text>
</svg>
</body></html>
